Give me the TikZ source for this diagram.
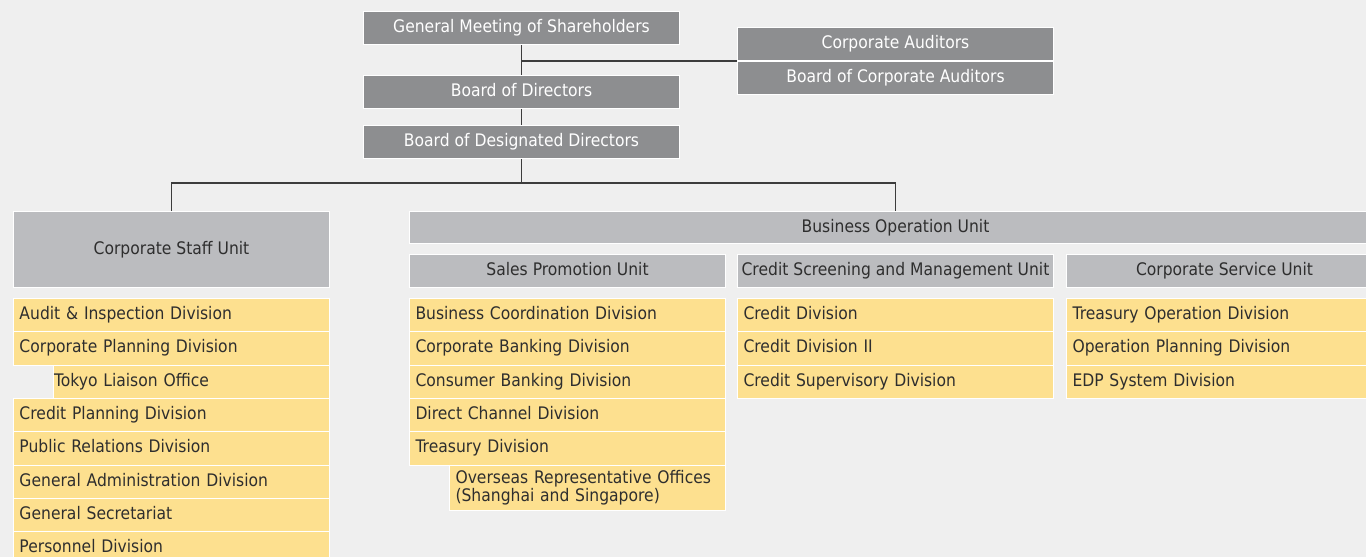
\documentclass[tikz,border=0pt]{standalone}
\usepackage{fontspec}
\setmainfont{DejaVu Sans}[FakeStretch=0.9]
\usepackage{tikz}

\definecolor{bgc}{HTML}{EFEFEF}
\definecolor{darkc}{HTML}{8D8E90}
\definecolor{lightc}{HTML}{BBBCBF}
\definecolor{yelc}{HTML}{FDE08F}
\definecolor{linec}{HTML}{3C3C3C}
\definecolor{txtc}{HTML}{2E2E2E}

\begin{document}
\begin{tikzpicture}[x=1pt,y=-1pt,
        font=\fontsize{17.3}{19}\selectfont,
        topbox/.style={draw=white,line width=1pt,fill=darkc,text=white,anchor=north west,
            minimum width=316pt,minimum height=33pt,inner sep=0pt,text height=12.5pt,text depth=3.5pt},
        unitbox/.style={draw=white,line width=1pt,fill=lightc,text=txtc,anchor=north west,
            minimum width=316pt,minimum height=33pt,inner sep=0pt,text height=12.5pt,text depth=3.5pt},
        divbox/.style={draw=white,line width=1pt,fill=yelc,text=txtc,anchor=north west,
            text width=304pt,align=left,inner xsep=6pt,inner ysep=0pt,minimum height=33.3pt,
            text height=12.5pt,text depth=3.5pt},
        link/.style={draw=linec,line width=1.4pt}]
        \fill[bgc] (0,0) rectangle (1366,557);
        \useasboundingbox (0,0) rectangle (1366,557);
        % top of the chart
        \node[topbox] (gms) at (363,11) {General Meeting of Shareholders};
        \node[topbox] (aud) at (737,27) {Corporate Auditors};
        \node[topbox] (bca) at (737,61) {Board of Corporate Auditors};
        \node[topbox] (bod) at (363,75) {Board of Directors};
        \node[topbox] (bdd) at (363,125) {Board of Designated Directors};
        % units
        \node[unitbox,minimum height=76pt] (csu) at (13,211) {Corporate Staff Unit};
        \node[unitbox,minimum width=972pt,minimum height=32pt] (bou) at (409,211) {Business Operation Unit};
        \node[unitbox] (spu) at (409,254) {Sales Promotion Unit};
        \node[unitbox] (csm) at (737,254) {Credit Screening and Management Unit};
        \node[unitbox] (svc) at (1066,254) {Corporate Service Unit};
        % divisions
        \foreach \k/\t in {0/Audit \& Inspection Division,1/Corporate Planning Division,
                3/Credit Planning Division,4/Public Relations Division,
                5/General Administration Division,6/General Secretariat,7/Personnel Division}
            \node[divbox] (st\k) at (13,298+33.3*\k) {\t};
        \node[divbox,text width=275pt,inner xsep=0.5pt] (st2) at (53,298+33.3*2) {Tokyo Liaison Office};
        \foreach \t [count=\k from 0] in {Business Coordination Division,Corporate Banking Division,
                Consumer Banking Division,Direct Channel Division,Treasury Division}
            \node[divbox] (sp\k) at (409,298+33.3*\k) {\t};
        \node[divbox,text width=264pt,minimum height=45pt,text height={},text depth={},
            font=\fontsize{17.3}{15}\selectfont] (sp5) at (449,464.5)
            {Overseas Representative Offices\\(Shanghai and Singapore)};
        \foreach \t [count=\k from 0] in {Credit Division,Credit Division II,Credit Supervisory Division}
            \node[divbox] (cr\k) at (737,298+33.3*\k) {\t};
        \foreach \t [count=\k from 0] in {Treasury Operation Division,Operation Planning Division,EDP System Division}
            \node[divbox] (sv\k) at (1066,298+33.3*\k) {\t};
        % connectors
        \coordinate (split) at (bdd.south |- 0,183);
        \draw[link] (gms.south) -- (bod.north);
        \draw[link] (gms.south |- aud.south west) -- (aud.south west);
        \draw[link] (bod.south) -- (bdd.north);
        \draw[link] (bdd.south) -- (split);
        \draw[link] (csu.north) |- (split) -| (bou.north);
    \end{tikzpicture}
\end{document}
